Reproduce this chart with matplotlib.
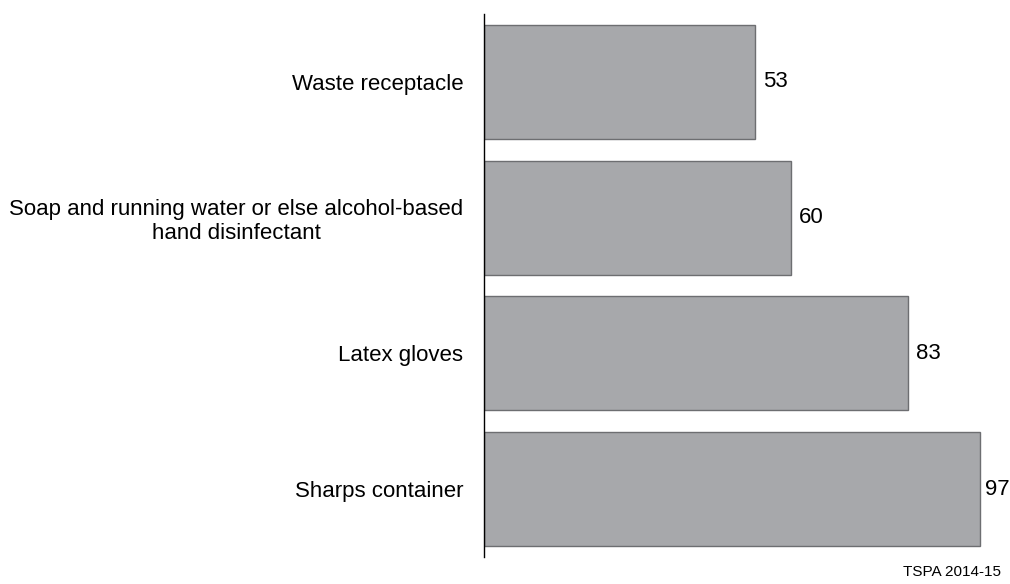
import matplotlib
matplotlib.use("Agg")
import matplotlib.pyplot as plt

categories = ["Waste receptacle",
              "Soap and running water or else alcohol-based\nhand disinfectant",
              "Latex gloves",
              "Sharps container"]
values = [53, 60, 83, 97]

plt.rcParams['font.family'] = ['Liberation Sans', 'DejaVu Sans']

fig = plt.figure(figsize=(10.10, 5.84), dpi=100)
W, H = 1010, 584
left, right, top, bottom = 484, 995, 14, 557
ax = fig.add_axes([left / W, 1 - bottom / H, (right - left) / W, (bottom - top) / H])

ypos = list(range(len(categories)))
ax.barh(ypos, values, height=0.84, color='#a7a8ab', edgecolor='#6d6e71', linewidth=1.0)
ax.set_ylim(3.5, -0.5)
ax.set_xlim(0, 100)
ax.set_yticks(ypos)
ax.set_yticklabels(categories, fontsize=16, ha='right', multialignment='center')
ax.tick_params(axis='y', length=0, pad=15)
ax.set_xticks([])
for s in ['top', 'right', 'bottom']:
    ax.spines[s].set_visible(False)
ax.spines['left'].set_linewidth(1.0)
ax.spines['left'].set_color('black')

for y, v in zip(ypos, values):
    ax.text(min(v + 1.6, 98.0), y, str(v), va='center', ha='left', fontsize=16,
            clip_on=False)

fig.text(1001 / W, 1 - 572 / H, "TSPA 2014-15", ha='right', va='center', fontsize=11)

fig.savefig("out.png", dpi=100)
